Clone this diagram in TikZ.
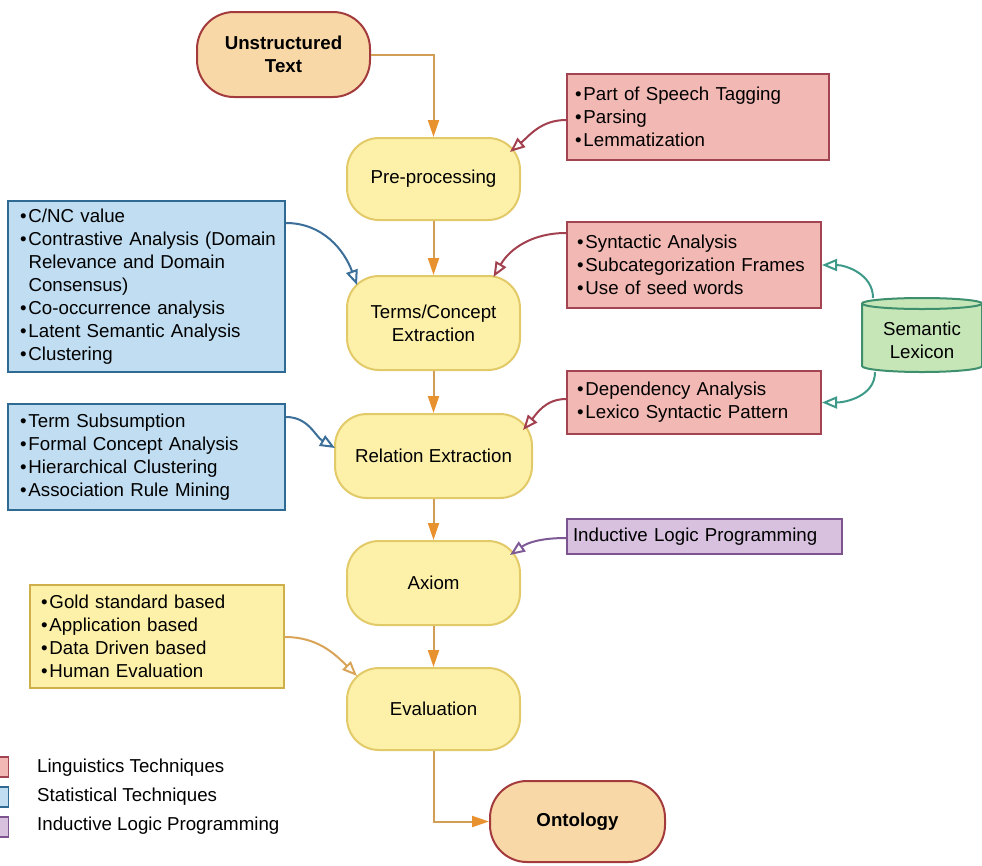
\documentclass[tikz,border=0pt]{standalone}
\usepackage{fontspec}
\setmainfont{Liberation Sans}
\usetikzlibrary{arrows.meta}

% palette
\definecolor{termfill}{HTML}{F9D8A8}
\definecolor{termdraw}{HTML}{A33A3C}
\definecolor{procfill}{HTML}{FDF1AA}
\definecolor{procdraw}{HTML}{E3CA68}
\definecolor{redfill}{HTML}{F2B8B3}
\definecolor{reddraw}{HTML}{A34452}
\definecolor{bluefill}{HTML}{C0DDF1}
\definecolor{bluedraw}{HTML}{2F6A92}
\definecolor{yelfill}{HTML}{FDF0A8}
\definecolor{yeldraw}{HTML}{CFAF4A}
\definecolor{purfill}{HTML}{D7C1DE}
\definecolor{purdraw}{HTML}{7D5490}
\definecolor{grnfill}{HTML}{C6E6B8}
\definecolor{grndraw}{HTML}{3E8F6E}
\definecolor{flowline}{HTML}{D29D55}
\definecolor{flowhead}{HTML}{E8912F}
\definecolor{redline}{HTML}{A2404F}
\definecolor{blueline}{HTML}{3B6F99}
\definecolor{purline}{HTML}{7D5A96}
\definecolor{grnline}{HTML}{3D9A88}
\definecolor{yelline}{HTML}{D9A458}

% bullet lines that never wrap
\newcommand\bitem[1]{\mbox{\makebox[8.5pt][l]{\textbullet}#1}}
\newcommand\bcont[1]{\mbox{\hspace*{8.5pt}#1}}

\tikzset{
  terminal/.style={draw=termdraw, fill=termfill, line width=2pt,
    rounded corners=37pt, minimum width=173pt, minimum height=85pt,
    align=center, inner sep=0pt, font=\fontsize{18.7}{23}\selectfont\bfseries},
  process/.style={draw=procdraw, fill=procfill, line width=2pt,
    rounded corners=32pt, minimum width=173pt, minimum height=82pt,
    align=center, inner sep=0pt},
  listbox/.style={line width=2pt, align=left, inner ysep=0pt},
  redbox/.style={listbox, draw=reddraw, fill=redfill},
  bluebox/.style={listbox, draw=bluedraw, fill=bluefill},
  yelbox/.style={listbox, draw=yeldraw, fill=yelfill},
  purbox/.style={listbox, draw=purdraw, fill=purfill},
  mainflow/.style={draw=flowline, line width=2pt,
    -{Triangle[length=17pt,width=11pt,fill=flowhead,color=flowhead]}},
  sideflow/.style={line width=2pt, -{Triangle[open,length=15pt,width=12pt]}},
  legkey/.style={line width=1.5pt, minimum width=11pt, minimum height=20pt, inner sep=0pt},
  legtext/.style={anchor=west, inner sep=0pt}
}

\begin{document}
\begin{tikzpicture}[x=1pt, y=1pt, font=\fontsize{18.7}{23}\selectfont]
\useasboundingbox (0,0) rectangle (982,-865);

% main pipeline
\node[terminal] (ut) at (283.5,-54.5) {Unstructured\\Text};
\node[process] (pre) at (433.5,-179) {Pre-processing};
\node[process, minimum height=94pt] (terms) at (433.5,-323) {Terms/Concept\\Extraction};
\node[process, minimum width=197pt, minimum height=84pt] (rel) at (433.5,-456) {Relation Extraction};
\node[process, minimum height=84pt] (axiom) at (433.5,-583) {Axiom};
\node[process] (eval) at (433.5,-709) {Evaluation};
\node[terminal, minimum width=175pt, minimum height=81pt] (onto) at (577.5,-821.5) {Ontology};

% linguistic techniques
\node[redbox, text width=246pt, inner xsep=8pt, minimum height=86pt] (red1) at (698,-117)
  {\bitem{Part of Speech Tagging}\\\bitem{Parsing}\\\bitem{Lemmatization}};
\node[redbox, text width=234pt, inner xsep=10pt, minimum height=86pt] (red2) at (694,-265)
  {\bitem{Syntactic Analysis}\\\bitem{Subcategorization Frames}\\\bitem{Use of seed words}};
\node[redbox, text width=234pt, inner xsep=10pt, minimum height=63pt] (red3) at (694,-402.5)
  {\bitem{Dependency Analysis}\\\bitem{Lexico Syntactic Pattern}};

% inductive logic programming
\node[purbox, text width=263pt, inner xsep=6pt, minimum height=35pt] (pur) at (704.5,-536.5)
  {Inductive Logic Programming};

% statistical techniques
\node[bluebox, text width=253pt, inner xsep=12pt, minimum height=171pt] (blue1) at (146.5,-286.5)
  {\bitem{C/NC value}\\\bitem{Contrastive Analysis (Domain}\\\bcont{Relevance and Domain}\\\bcont{Consensus)}\\\bitem{Co-occurrence analysis}\\\bitem{Latent Semantic Analysis}\\\bitem{Clustering}};
\node[bluebox, text width=253pt, inner xsep=12pt, minimum height=106pt] (blue2) at (146.5,-457)
  {\bitem{Term Subsumption}\\\bitem{Formal Concept Analysis}\\\bitem{Hierarchical Clustering}\\\bitem{Association Rule Mining}};

% evaluation methods
\node[yelbox, text width=232pt, inner xsep=11pt, minimum height=103pt] (yel) at (157,-636.5)
  {\bitem{Gold standard based}\\\bitem{Application based}\\\bitem{Data Driven based}\\\bitem{Human Evaluation}};

% semantic lexicon (cylinder)
\path[fill=grnfill, draw=grndraw, line width=2pt]
  (862,-303.5) -- (862,-366)
  arc[start angle=180, end angle=360, x radius=60, y radius=6]
  -- (982,-303.5)
  arc[start angle=0, end angle=180, x radius=60, y radius=5.5] -- cycle;
\draw[grndraw, line width=2pt]
  (862,-303.5) arc[start angle=180, end angle=360, x radius=60, y radius=5.5];
\node[minimum width=120pt, minimum height=75pt, inner sep=0pt, align=center] (lex) at (922,-340)
  {Semantic\\Lexicon};

% pipeline flow
\draw[mainflow] (ut.east) -| (pre.north);
\draw[mainflow] (pre.south) -- (terms.north);
\draw[mainflow] (terms.south) -- (rel.north);
\draw[mainflow] (rel.south) -- (axiom.north);
\draw[mainflow] (axiom.south) -- (eval.north);
\draw[mainflow] (eval.south) |- (onto.west);

% techniques feeding the stages
\draw[sideflow, redline] ([yshift=-3pt]red1.west) to[out=180, in=40]
  ([xshift=76.5pt, yshift=27pt]pre.center);
\draw[sideflow, redline] ([yshift=32pt]red2.west) to[out=180, in=60]
  ([xshift=60pt, yshift=46pt]terms.center);
\draw[sideflow, redline] ([yshift=3.5pt]red3.west) to[out=180, in=50]
  ([xshift=89.5pt, yshift=26pt]rel.center);
\draw[sideflow, purline] ([yshift=-1.5pt]pur.west) to[out=180, in=35]
  ([xshift=76.5pt, yshift=28pt]axiom.center);
\draw[sideflow, blueline] ([yshift=63.5pt]blue1.east) to[out=0, in=110]
  ([xshift=-76.5pt, yshift=38pt]terms.center);
\draw[sideflow, blueline] ([yshift=40pt]blue2.east) to[out=0, in=150]
  ([xshift=-98.5pt, yshift=8pt]rel.center);
\draw[sideflow, yelline] ([yshift=-0.5pt]yel.east) to[out=0, in=135]
  ([xshift=-76.5pt, yshift=33pt]eval.center);
\draw[sideflow, grnline] ([xshift=-49pt, yshift=4.5pt]lex.north) to[out=90, in=0] (red2.east);
\draw[sideflow, grnline] ([xshift=-47pt, yshift=5.5pt]lex.south) to[out=-90, in=0] (red3.east);

% legend
\node[legkey, draw=reddraw, fill=redfill] (k1) at (3,-767) {};
\node[legkey, draw=bluedraw, fill=bluefill] (k2) at (3,-797) {};
\node[legkey, draw=purdraw, fill=purfill] (k3) at (3,-827) {};
\node[legtext] (t1) at (37,-768) {Linguistics Techniques};
\node[legtext] (t2) at (37,-797) {Statistical Techniques};
\node[legtext] (t3) at (37,-826) {Inductive Logic Programming};
\end{tikzpicture}
\end{document}
